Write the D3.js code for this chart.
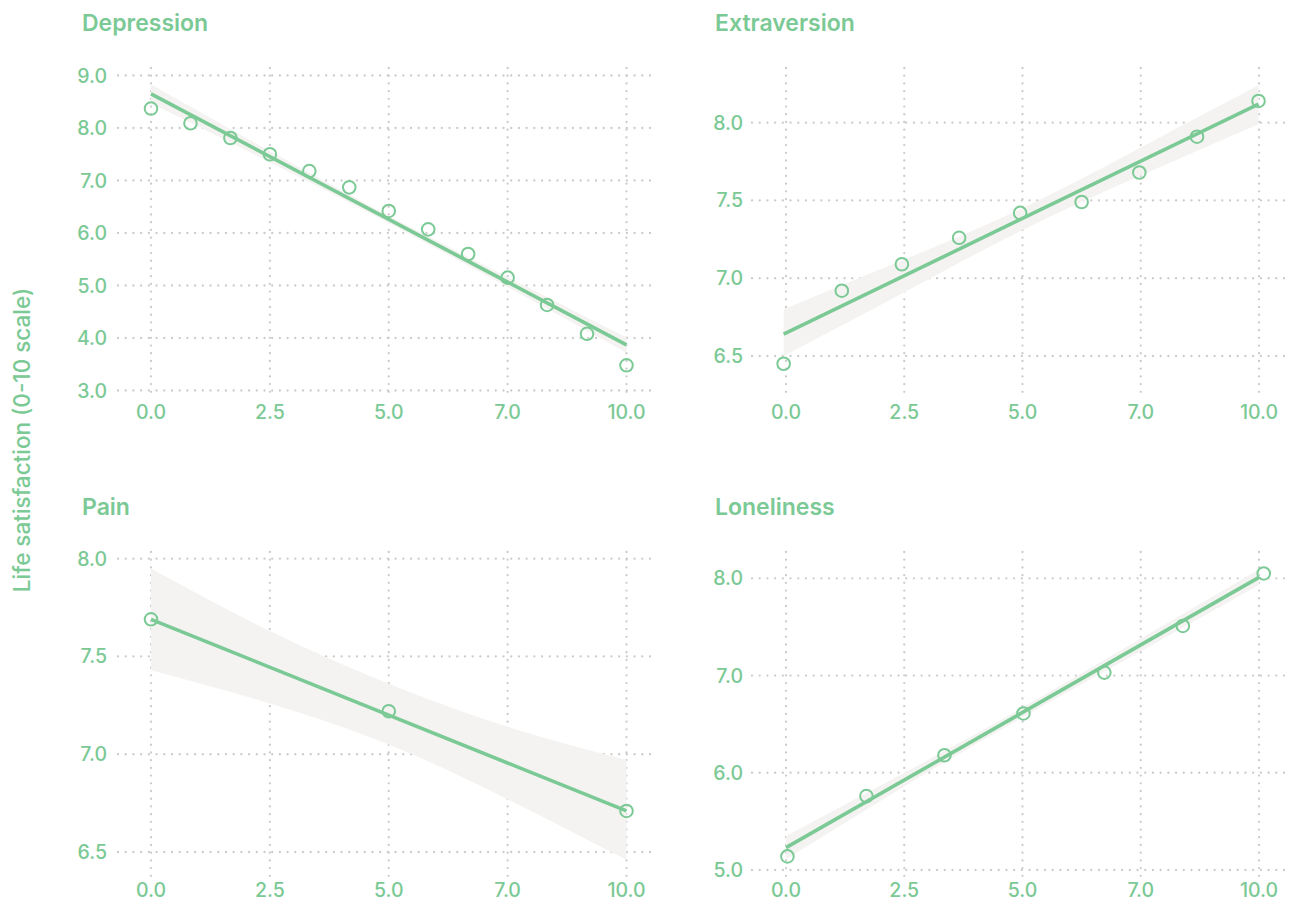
<!DOCTYPE html>
<html>
<head>
<meta charset="utf-8">
<script src="https://cdn.jsdelivr.net/npm/d3@7"></script>
<style>
  html, body { margin: 0; padding: 0; background: #ffffff; }
  svg { display: block; font-family: "Inter", "Lato", sans-serif; }
</style>
</head>
<body>
<svg id="chart" width="1293" height="904"></svg>
<script>
// ---- data -------------------------------------------------------------
const panelTitles = ["Depression", "Extraversion", "Pain", "Loneliness"];

const xTickValues = [0, 2.5, 5, 7.5, 10];
const xTickLabels = ["0.0", "2.5", "5.0", "7.0", "10.0"];

const depressionYTicks   = [3, 4, 5, 6, 7, 8, 9];
const extraversionYTicks = [6.5, 7.0, 7.5, 8.0];
const painYTicks         = [6.5, 7.0, 7.5, 8.0];
const lonelinessYTicks   = [5, 6, 7, 8];

// binned means
const depressionX = [0, 0.83, 1.67, 2.5, 3.33, 4.17, 5, 5.83, 6.67, 7.5, 8.33, 9.17, 10];
const depressionY = [8.37, 8.09, 7.81, 7.50, 7.18, 6.87, 6.42, 6.07, 5.60, 5.15, 4.63, 4.08, 3.48];

const extraversionX = [-0.05, 1.18, 2.45, 3.66, 4.95, 6.25, 7.47, 8.69, 9.99];
const extraversionY = [6.45, 6.92, 7.09, 7.26, 7.42, 7.49, 7.68, 7.91, 8.14];

const painX = [0, 5, 10];
const painY = [7.69, 7.22, 6.71];

const lonelinessX = [0.03, 1.70, 3.35, 5.02, 6.73, 8.39, 10.1];
const lonelinessY = [5.14, 5.76, 6.18, 6.61, 7.03, 7.51, 8.05];

// fitted line (endpoints) and confidence band
const depressionFitX = [0, 10];
const depressionFitY = [8.65, 3.87];
const depressionBandX = [0, 2.5, 5, 7.5, 10];
const depressionBandLow  = [8.47, 7.35, 6.19, 4.97, 3.72];
const depressionBandHigh = [8.83, 7.56, 6.33, 5.16, 4.01];

const extraversionFitX = [-0.05, 9.99];
const extraversionFitY = [6.64, 8.12];
const extraversionBandX = [-0.05, 2.5, 5, 7.5, 9.99];
const extraversionBandLow  = [6.50, 6.91, 7.31, 7.66, 7.99];
const extraversionBandHigh = [6.80, 7.12, 7.45, 7.84, 8.24];

const painFitX = [0, 10];
const painFitY = [7.69, 6.71];
const painBandX = [0, 2.5, 5, 7.5, 10];
const painBandLow  = [7.43, 7.26, 7.05, 6.77, 6.46];
const painBandHigh = [7.95, 7.63, 7.36, 7.14, 6.97];

const lonelinessFitX = [0, 10];
const lonelinessFitY = [5.23, 8.01];
const lonelinessBandX = [0, 2.5, 5, 7.5, 10];
const lonelinessBandLow  = [5.11, 5.86, 6.57, 7.25, 7.93];
const lonelinessBandHigh = [5.35, 6.00, 6.67, 7.38, 8.09];

const yAxisTitle = "Life satisfaction (0-10 scale)";

// ---- styling / layout -------------------------------------------------
const GREEN = "#7bc995";
const BAND = "#f4f3f1";
const GRID = "#cbcbcb";

const cols = [
  { x0: 151, x10: 626.5, left: 118, right: 657, labelRight: 107, titleX: 82 },
  { x0: 786, x10: 1259,  left: 752, right: 1291, labelRight: 743, titleX: 715 }
];
const rows = [
  { top: 68,  bottom: 398, titleY: 31,  xLabelY: 412 },
  { top: 552, bottom: 878, titleY: 515, xLabelY: 890 }
];

const panels = [
  { title: panelTitles[0], col: 0, row: 0, yTicks: depressionYTicks, yPix: [390.5, 75.5],
    px: depressionX, py: depressionY, fx: depressionFitX, fy: depressionFitY,
    bx: depressionBandX, bl: depressionBandLow, bh: depressionBandHigh },
  { title: panelTitles[1], col: 1, row: 0, yTicks: extraversionYTicks, yPix: [356, 122.7],
    px: extraversionX, py: extraversionY, fx: extraversionFitX, fy: extraversionFitY,
    bx: extraversionBandX, bl: extraversionBandLow, bh: extraversionBandHigh },
  { title: panelTitles[2], col: 0, row: 1, yTicks: painYTicks, yPix: [852, 558.7],
    px: painX, py: painY, fx: painFitX, fy: painFitY,
    bx: painBandX, bl: painBandLow, bh: painBandHigh },
  { title: panelTitles[3], col: 1, row: 1, yTicks: lonelinessYTicks, yPix: [870, 578.3],
    px: lonelinessX, py: lonelinessY, fx: lonelinessFitX, fy: lonelinessFitY,
    bx: lonelinessBandX, bl: lonelinessBandLow, bh: lonelinessBandHigh }
];

const svg = d3.select("#chart");

panels.forEach(p => {
  const c = cols[p.col], r = rows[p.row];
  const yLo = p.yTicks[0], yHi = p.yTicks[p.yTicks.length - 1];
  const x = d3.scaleLinear().domain([0, 10]).range([c.x0, c.x10]);
  const y = d3.scaleLinear().domain([yLo, yHi]).range(p.yPix);

  const g = svg.append("g");

  // dotted grid (round dots)
  g.append("g").selectAll("line").data(p.yTicks).join("line")
    .attr("x1", c.left).attr("x2", c.right)
    .attr("y1", d => y(d)).attr("y2", d => y(d))
    .attr("stroke", GRID).attr("stroke-width", 2.3)
    .attr("stroke-dasharray", "0.01 7.7").attr("stroke-linecap", "round");
  g.append("g").selectAll("line").data(xTickValues).join("line")
    .attr("y1", r.top).attr("y2", r.bottom)
    .attr("x1", d => x(d)).attr("x2", d => x(d))
    .attr("stroke", GRID).attr("stroke-width", 2.3)
    .attr("stroke-dasharray", "0.01 7.7").attr("stroke-linecap", "round");

  // tick labels
  g.append("g").selectAll("text").data(p.yTicks).join("text")
    .attr("x", c.labelRight).attr("y", d => y(d)).attr("dy", "0.36em")
    .attr("text-anchor", "end").attr("fill", GREEN)
    .attr("font-size", 19.5).attr("font-weight", 500)
    .text(d => d3.format(".1f")(d));
  g.append("g").selectAll("text").data(xTickValues).join("text")
    .attr("x", d => x(d)).attr("y", r.xLabelY).attr("dy", "0.36em")
    .attr("text-anchor", "middle").attr("fill", GREEN)
    .attr("font-size", 19.5).attr("font-weight", 500)
    .text((d, i) => xTickLabels[i]);

  // panel title
  g.append("text")
    .attr("x", c.titleX).attr("y", r.titleY)
    .attr("fill", GREEN).attr("font-size", 23).attr("font-weight", 600)
    .text(p.title);

  // confidence band
  const band = p.bx.map((v, i) => ({ x: v, lo: p.bl[i], hi: p.bh[i] }));
  g.append("path").datum(band)
    .attr("fill", BAND)
    .attr("d", d3.area().curve(d3.curveNatural)
      .x(d => x(d.x)).y0(d => y(d.lo)).y1(d => y(d.hi)));

  // points
  const pts = p.px.map((v, i) => ({ x: v, y: p.py[i] }));
  g.append("g").selectAll("circle").data(pts).join("circle")
    .attr("cx", d => x(d.x)).attr("cy", d => y(d.y)).attr("r", 6.3)
    .attr("fill", "none").attr("stroke", GREEN).attr("stroke-width", 2);

  // fitted line
  const fit = p.fx.map((v, i) => ({ x: v, y: p.fy[i] }));
  g.append("path").datum(fit)
    .attr("fill", "none").attr("stroke", GREEN).attr("stroke-width", 3.6)
    .attr("d", d3.line().x(d => x(d.x)).y(d => y(d.y)));
});

// shared y axis title
svg.append("text")
  .attr("transform", "translate(22,440) rotate(-90)")
  .attr("text-anchor", "middle").attr("dy", "0.35em")
  .attr("fill", GREEN).attr("font-size", 22.5).attr("font-weight", 500)
  .text(yAxisTitle);
</script>
</body>
</html>
